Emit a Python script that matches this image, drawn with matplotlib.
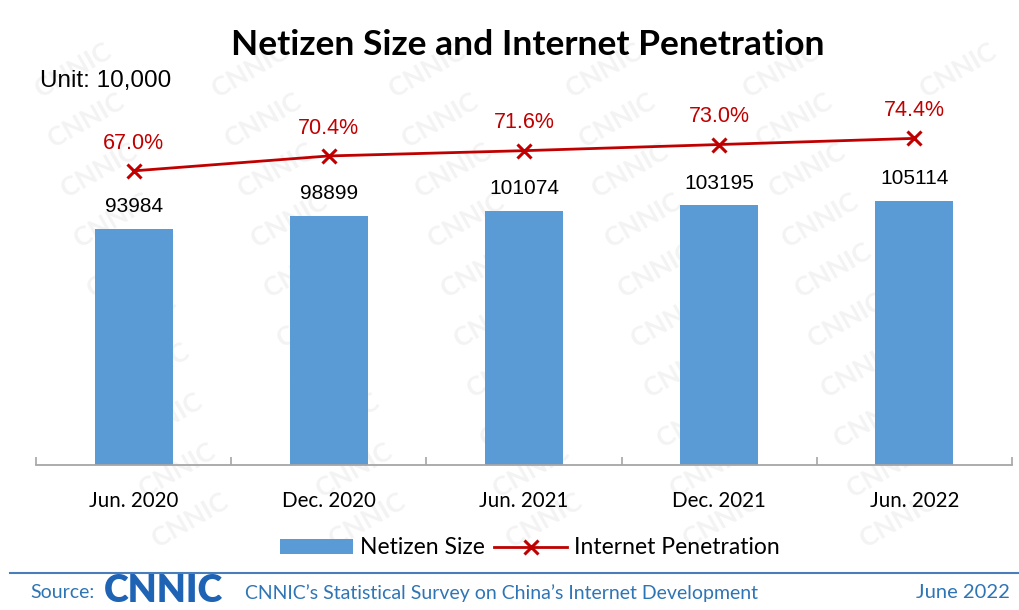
import numpy as np
import matplotlib
matplotlib.use("Agg")
import matplotlib.pyplot as plt
from matplotlib.lines import Line2D
from matplotlib.patches import Patch

# data
periods = ["Jun. 2020", "Dec. 2020", "Jun. 2021", "Dec. 2021", "Jun. 2022"]
netizens = [93984, 98899, 101074, 103195, 105114]
penetration = [67.0, 70.4, 71.6, 73.0, 74.4]

BLUE = "#5B9BD5"
RED = "#C00000"
SANS = ["Lato", "DejaVu Sans"]
ARIAL = ["Liberation Sans", "DejaVu Sans"]

fig = plt.figure(figsize=(10.19, 6.10), dpi=100)
fig.patch.set_facecolor("white")

#faint CNNIC watermark behind everything (only the ones fully inside)
for i in range(-2, 7):
    for j in range(-1, 13):
        x = 60 + 177 * i + 13 * j
        y = 20 + 50 * j
        if 60 < x < 960 and 40 < y < 540:
            fig.text(x / 1019, 1 - y / 610, "CNNIC", fontsize=19, fontweight="bold",
                     family=SANS, color="#F3F3F3", rotation=30,
                     ha="center", va="center", zorder=-5)

ax = fig.add_axes([36 / 1019, 1 - 465 / 610, 976 / 1019, 425 / 610])
ax.patch.set_alpha(0)
x = np.arange(len(periods))

ax.bar(x, netizens, width=0.4, color=BLUE, zorder=2)
ax.set_xlim(-0.5, len(periods) - 0.5)
ax.set_ylim(0, 425 / 0.002516)

for xi, v in zip(x, netizens):
    ax.annotate(str(v), (xi, v), xytext=(0, 16), textcoords="offset points",
                ha="center", va="center", fontsize=15, family=ARIAL, color="black")

for s in ["top", "right", "left"]:
    ax.spines[s].set_visible(False)
ax.spines["bottom"].set_color("#A6A6A6")
ax.spines["bottom"].set_linewidth(1.3)
ax.set_yticks([])
ax.set_xticks(x)
ax.set_xticklabels(periods, fontsize=14.8, family=SANS)
ax.tick_params(axis="x", which="major", length=0, pad=19)
ax.set_xticks(np.arange(-0.5, len(periods)), minor=True)
ax.tick_params(axis="x", which="minor", direction="in", length=6, color="#A6A6A6", width=1.2)

# penetration on a second axis
ax2 = ax.twinx()
ax2.set_ylim(0, 425 / 4.39)
ax2.plot(x, penetration, color=RED, lw=2, marker="x", markersize=10, mew=2.2, zorder=3)
for xi, p in zip(x, penetration):
    ax2.annotate(f"{p:.1f}%", (xi, p), xytext=(0, 20), textcoords="offset points",
                 ha="center", va="center", fontsize=15.5, family=ARIAL, color=RED)
ax2.set_yticks([])
for s in ax2.spines.values():
    s.set_visible(False)

fig.text(0.518, 1 - 45 / 610, "Netizen Size and Internet Penetration", fontsize=25.5,
         fontweight="bold", family=SANS, ha="center", va="center")
fig.text(40 / 1019, 1 - 81 / 610, "Unit: 10,000", fontsize=17.5, family=ARIAL,
         ha="left", va="center")

handles = [Patch(facecolor=BLUE, edgecolor="none"),
           Line2D([], [], color=RED, lw=2, marker="x", markersize=10, mew=2.2)]
fig.legend(handles, ["Netizen Size", "Internet Penetration"], loc="center",
           bbox_to_anchor=(0.52, 1 - 548 / 610), ncol=2, frameon=False,
           prop={"family": SANS, "size": 16.5}, handlelength=3.2, handleheight=0.6,
           columnspacing=0.4, handletextpad=0.3)

# footer
fig.add_artist(Line2D([10 / 1019, 1], [1 - 573 / 610] * 2, color="#4A7EBB", lw=1.5))
foot_y = 1 - 593 / 610
fig.text(30 / 1019, foot_y, "Source:", fontsize=14, family=SANS, color="#2E75B6",
         ha="left", va="center")
fig.text(104 / 1019, 1 - 591 / 610, "CNNIC", fontsize=27, fontweight="heavy", family=SANS,
         color="#1F63B5", ha="left", va="center")
fig.text(245 / 1019, foot_y, "CNNIC\u2019s Statistical Survey on China\u2019s Internet Development",
         fontsize=14, family=SANS, color="#2E75B6", ha="left", va="center")
fig.text(1010 / 1019, foot_y, "June 2022", fontsize=14.5, family=SANS, color="#2E75B6",
         ha="right", va="center")

fig.savefig("out.png", dpi=100)
